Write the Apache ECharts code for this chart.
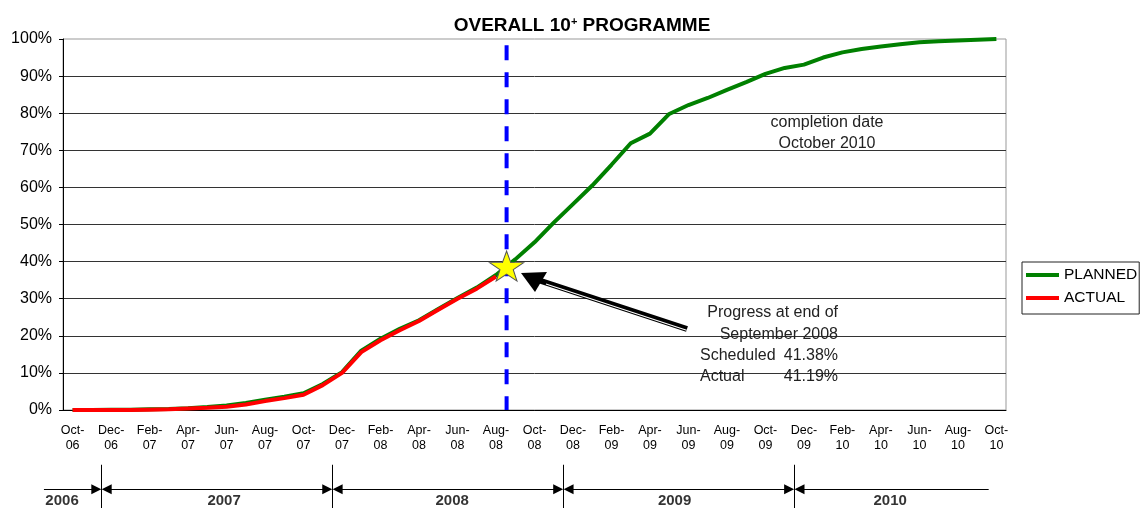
<!DOCTYPE html>
<html><head><meta charset="utf-8">
<script src="https://cdn.jsdelivr.net/npm/echarts@6/dist/echarts.min.js"></script>
<style>html,body{margin:0;padding:0;background:#fff}#c{width:1141px;height:508px}</style>
</head><body><div id="c"></div><script>
// ---------------- DATA ----------------
const months = ['Oct-06','Nov-06','Dec-06','Jan-07','Feb-07','Mar-07','Apr-07','May-07','Jun-07','Jul-07','Aug-07','Sep-07',
  'Oct-07','Nov-07','Dec-07','Jan-08','Feb-08','Mar-08','Apr-08','May-08','Jun-08','Jul-08','Aug-08','Sep-08',
  'Oct-08','Nov-08','Dec-08','Jan-09','Feb-09','Mar-09','Apr-09','May-09','Jun-09','Jul-09','Aug-09','Sep-09',
  'Oct-09','Nov-09','Dec-09','Jan-10','Feb-10','Mar-10','Apr-10','May-10','Jun-10','Jul-10','Aug-10','Sep-10','Oct-10'];
const planned = [0.0,0.0,0.1,0.1,0.2,0.3,0.5,0.8,1.2,1.9,2.8,3.6,
  4.5,7.0,10.2,16.0,19.2,21.9,24.2,27.2,30.2,33.0,36.4,40.6,
  45.2,50.5,55.5,60.5,66.1,71.9,74.5,79.8,82.2,84.1,86.3,88.4,
  90.6,92.2,93.1,95.0,96.4,97.3,98.0,98.6,99.1,99.4,99.6,99.8,100.0];
const actual = [0.0,0.0,0.0,0.0,0.1,0.2,0.4,0.6,0.9,1.5,2.4,3.2,
  4.1,6.7,10.0,15.6,18.8,21.5,24.0,27.0,30.0,32.7,36.0];
const yTicks = [0,10,20,30,40,50,60,70,80,90,100];
const years = ['2006','2007','2008','2009','2010'];
const yearStartMonths = ['Dec-06','Dec-07','Dec-08','Dec-09'];
const statusMark = {month: 22.55, value: 38.8};   // star / report date (category-index units)
const progressText = {scheduled: '41.38%', actual: '41.19%'};

// ---------------- LAYOUT ----------------
const FONT = "'Liberation Sans', Arial, sans-serif";
const bandStart = -1.49, bandEnd = 47.6, arrowGap = 0.27;
const yearLabelPos = [-0.55, 7.87, 19.72, 31.28, 42.48];
const bounds = yearStartMonths.map(m => months.indexOf(m) - 0.5);
const edges = [bandStart].concat(bounds, [bandEnd]);
const segs = [];
for (let i = 0; i < edges.length - 1; i++) segs.push([edges[i], edges[i + 1]]);
const segLine = (s, a, b) => ({coords: [[s[0] + a, 0.41], [s[1] - b, 0.41]]});

const chart = echarts.init(document.getElementById('c'), null, {renderer: 'canvas'});
chart.setOption({
  animation: false,
  backgroundColor: '#fff',
  textStyle: {fontFamily: FONT},
  title: {
    text: 'OVERALL 10{sup|+} PROGRAMME', left: 577, top: 11, textAlign: 'center',
    textStyle: {fontSize: 19, fontWeight: 'bold', color: '#000', fontFamily: FONT,
      rich: {sup: {fontSize: 11, fontWeight: 'bold', color: '#000', verticalAlign: 'top', fontFamily: FONT}}}
  },
  legend: {
    data: ['PLANNED', 'ACTUAL'], orient: 'vertical', left: 1022, top: 262, icon: 'rect',
    itemWidth: 33, itemHeight: 4, itemGap: 7, padding: [5, 2, 8, 4],
    borderColor: '#222', borderWidth: 1, backgroundColor: '#fff',
    textStyle: {fontSize: 15.5, lineHeight: 16, color: '#000', fontFamily: FONT}
  },
  grid: [
    {left: 63, right: 135, top: 39, bottom: 98, show: true, borderColor: '#999', borderWidth: 1},
    {left: 63, right: 135, top: 462, height: 46}
  ],
  xAxis: [
    {type: 'category', gridIndex: 0, data: months, boundaryGap: true,
      axisLine: {lineStyle: {color: '#000', width: 1}},
      axisTick: {interval: 1, length: 5, lineStyle: {color: '#000'}},
      axisLabel: {interval: 1, fontSize: 12.5, lineHeight: 15, margin: 13, color: '#000', fontFamily: FONT,
        formatter: v => v.replace('-', '-\n')},
      splitLine: {show: false}},
    {type: 'value', gridIndex: 0, min: -0.5, max: 48.5, show: false},
    {type: 'value', gridIndex: 1, min: -0.5, max: 48.5, show: false}
  ],
  yAxis: [
    {type: 'value', gridIndex: 0, min: yTicks[0], max: yTicks[yTicks.length - 1], interval: 10,
      axisLine: {show: true, onZero: false, lineStyle: {color: '#000'}},
      axisTick: {show: true, length: 4, lineStyle: {color: '#000'}},
      axisLabel: {formatter: '{value}%', fontSize: 16, color: '#000', margin: 11, fontFamily: FONT},
      splitLine: {show: true, showMaxLine: false, lineStyle: {color: '#333', width: 1}}},
    {type: 'value', gridIndex: 1, min: 0, max: 1, show: false}
  ],
  series: [
    {name: 'PLANNED', type: 'line', xAxisIndex: 0, yAxisIndex: 0, data: planned, symbol: 'none',
      lineStyle: {color: '#008000', width: 4}, itemStyle: {color: '#008000'}, z: 2},
    {name: 'ACTUAL', type: 'line', xAxisIndex: 0, yAxisIndex: 0, data: actual, symbol: 'none',
      lineStyle: {color: '#ff0000', width: 4}, itemStyle: {color: '#ff0000'}, z: 3},
    {name: 'report date', type: 'line', xAxisIndex: 1, yAxisIndex: 0, symbol: 'none', silent: true,
      data: [[statusMark.month, 98.3], [statusMark.month, 0]],
      lineStyle: {color: '#0000ff', width: 4, type: [15, 12]}, z: 4},
    {name: 'status', type: 'scatter', xAxisIndex: 1, yAxisIndex: 0, silent: true,
      data: [[statusMark.month, statusMark.value]],
      symbol: 'path://M50,0 L61.8,35.1 L98.1,35.1 L68.8,56.7 L79.4,91 L50,70 L20.6,91 L31.2,56.7 L1.9,35.1 L38.2,35.1 Z',
      symbolSize: [34, 30], itemStyle: {color: '#ffff00', borderColor: '#555', borderWidth: 1, opacity: 1}, z: 6},
    // year band
    {name: 'yearSep', type: 'lines', coordinateSystem: 'cartesian2d', xAxisIndex: 2, yAxisIndex: 1, silent: true,
      data: bounds.map(b => ({coords: [[b, 0], [b, 0.94]]})), symbol: 'none',
      lineStyle: {color: '#000', width: 1, opacity: 1}},
    {name: 'yearSegA', type: 'lines', coordinateSystem: 'cartesian2d', xAxisIndex: 2, yAxisIndex: 1, silent: true, clip: false,
      data: [segLine(segs[0], 0, arrowGap)], symbol: ['none', 'triangle'], symbolSize: 10,
      lineStyle: {color: '#000', width: 1, opacity: 1}, itemStyle: {color: '#000'}},
    {name: 'yearSegB', type: 'lines', coordinateSystem: 'cartesian2d', xAxisIndex: 2, yAxisIndex: 1, silent: true, clip: false,
      data: segs.slice(1, segs.length - 1).map(s => segLine(s, arrowGap, arrowGap)), symbol: ['triangle', 'triangle'], symbolSize: 10,
      lineStyle: {color: '#000', width: 1, opacity: 1}, itemStyle: {color: '#000'}},
    {name: 'yearSegC', type: 'lines', coordinateSystem: 'cartesian2d', xAxisIndex: 2, yAxisIndex: 1, silent: true, clip: false,
      data: [segLine(segs[segs.length - 1], arrowGap, 0)], symbol: ['triangle', 'none'], symbolSize: 10,
      lineStyle: {color: '#000', width: 1, opacity: 1}, itemStyle: {color: '#000'}},
    {name: 'yearLabels', type: 'scatter', xAxisIndex: 2, yAxisIndex: 1, silent: true, symbolSize: 0, clip: false,
      data: years.map((y, i) => ({name: y, value: [yearLabelPos[i], 0.15]})),
      label: {show: true, position: 'inside', formatter: '{b}', fontSize: 15, fontWeight: 'bold', color: '#000', fontFamily: FONT}}
  ],
  graphic: [
    // arrow pointing at the star
    {type: 'line', shape: {x1: 687, y1: 329, x2: 538, y2: 280}, style: {stroke: '#000', lineWidth: 6}, z: 20},
    {type: 'line', shape: {x1: 686.6, y1: 330.3, x2: 546, y2: 284}, style: {stroke: '#fff', lineWidth: 1.1}, z: 21},
    {type: 'polygon', shape: {points: [[521, 273], [535, 292], [547, 272]]}, style: {fill: '#000'}, z: 22},
    // annotations
    {type: 'text', x: 827, y: 123, style: {text: 'completion date', fill: '#222', font: '16px ' + FONT, textAlign: 'center', textVerticalAlign: 'middle'}, z: 20},
    {type: 'text', x: 827, y: 144, style: {text: 'October 2010', fill: '#222', font: '16px ' + FONT, textAlign: 'center', textVerticalAlign: 'middle'}, z: 20},
    {type: 'text', x: 838, y: 313, style: {text: 'Progress at end of', fill: '#222', font: '16px ' + FONT, textAlign: 'right', textVerticalAlign: 'middle'}, z: 20},
    {type: 'text', x: 838, y: 334.5, style: {text: 'September 2008', fill: '#222', font: '16px ' + FONT, textAlign: 'right', textVerticalAlign: 'middle'}, z: 20},
    {type: 'text', x: 700, y: 356, style: {text: 'Scheduled', fill: '#222', font: '16px ' + FONT, textAlign: 'left', textVerticalAlign: 'middle'}, z: 20},
    {type: 'text', x: 838, y: 356, style: {text: progressText.scheduled, fill: '#222', font: '16px ' + FONT, textAlign: 'right', textVerticalAlign: 'middle'}, z: 20},
    {type: 'text', x: 700, y: 377, style: {text: 'Actual', fill: '#222', font: '16px ' + FONT, textAlign: 'left', textVerticalAlign: 'middle'}, z: 20},
    {type: 'text', x: 838, y: 377, style: {text: progressText.actual, fill: '#222', font: '16px ' + FONT, textAlign: 'right', textVerticalAlign: 'middle'}, z: 20}
  ]
});
</script></body></html>
